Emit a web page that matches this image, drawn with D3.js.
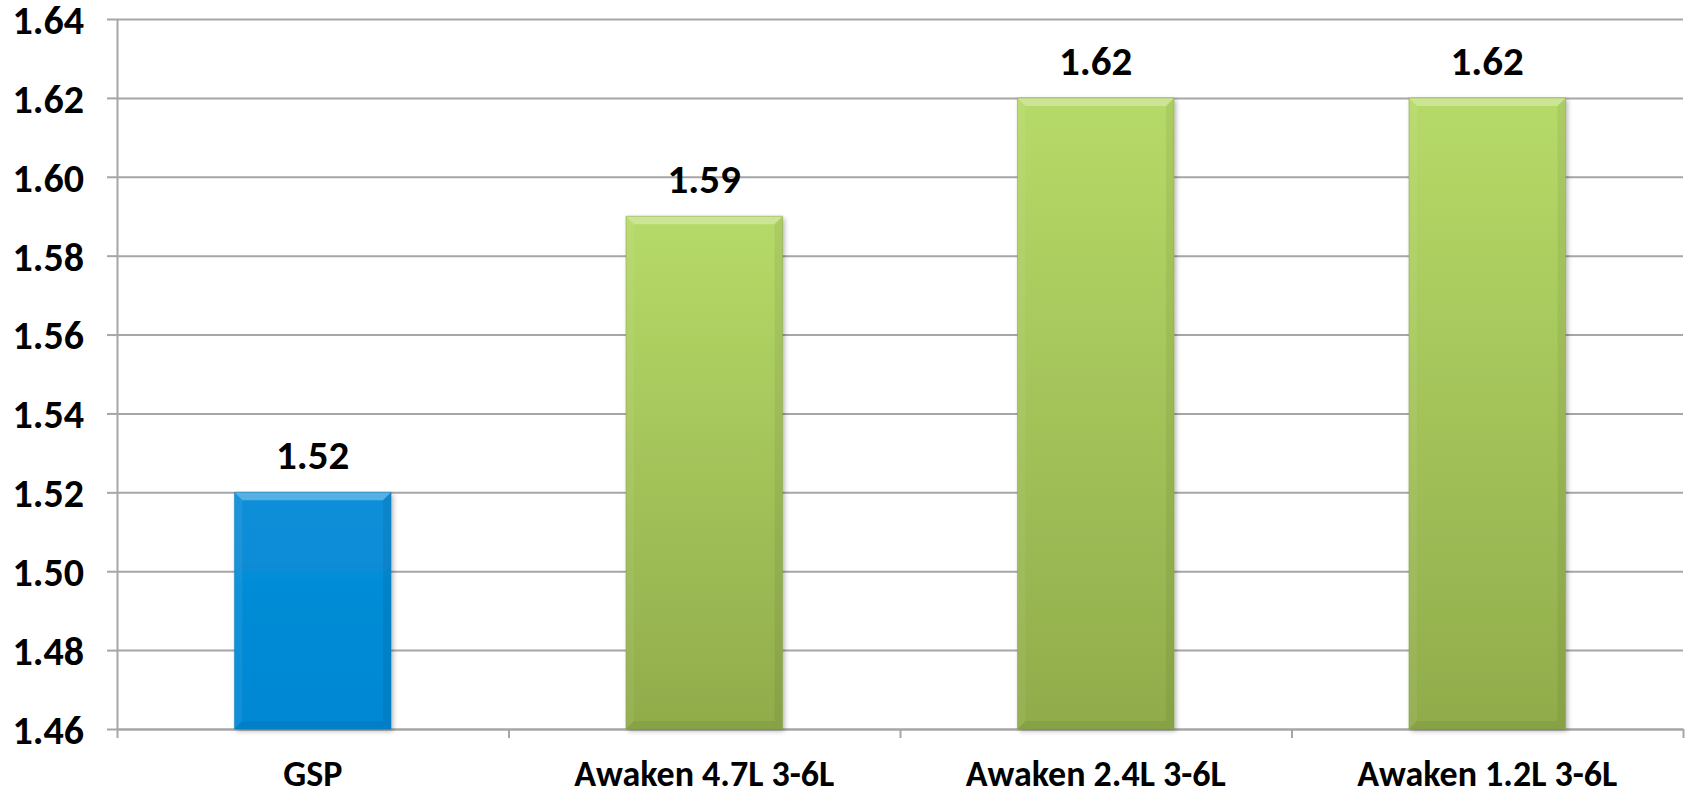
<!DOCTYPE html>
<html><head><meta charset="utf-8">
<script src="https://cdn.jsdelivr.net/npm/d3@7"></script>
<style>
html,body{margin:0;padding:0;background:#fff;}
svg{display:block;}
text{font-family:Carlito,Calibri,"Open Sans",sans-serif;font-weight:bold;fill:#000;}
</style></head><body>
<svg id="chart" width="1692" height="792"></svg>
<script>
const categories = ["GSP", "Awaken 4.7L 3-6L", "Awaken 2.4L 3-6L", "Awaken 1.2L 3-6L"];
const values = [1.52, 1.59, 1.62, 1.62];
const valueLabels = ["1.52", "1.59", "1.62", "1.62"];
const barKinds = ["blue", "green", "green", "green"];
const yTicks = [1.46, 1.48, 1.50, 1.52, 1.54, 1.56, 1.58, 1.60, 1.62, 1.64];
const yDomain = [1.46, 1.64];

(function(){
const svg = d3.select("#chart");
const mLeft = 117, mRight = 1683, mTop = 19, mBottom = 729;

const x = d3.scaleBand().domain(categories).range([mLeft, mRight]).paddingInner(0.6).paddingOuter(0.3);
const y = d3.scaleLinear().domain(yDomain).range([mBottom, mTop]);

const defs = svg.append("defs");
const gb = defs.append("linearGradient").attr("id","gblue").attr("x1",0).attr("y1",0).attr("x2",0).attr("y2",1);
gb.append("stop").attr("offset","0%").attr("stop-color","#0a8fd8");
gb.append("stop").attr("offset","100%").attr("stop-color","#0087d3");
const gg = defs.append("linearGradient").attr("id","ggreen").attr("x1",0).attr("y1",0).attr("x2",0).attr("y2",1);
gg.append("stop").attr("offset","0%").attr("stop-color","#b6da68");
gg.append("stop").attr("offset","100%").attr("stop-color","#90ac4b");
const flt = defs.append("filter").attr("id","shadow").attr("x","-10%").attr("y","-10%").attr("width","130%").attr("height","130%");
flt.append("feGaussianBlur").attr("in","SourceAlpha").attr("stdDeviation",2.5).attr("result","b");
flt.append("feOffset").attr("in","b").attr("dx",2).attr("dy",2).attr("result","o");
flt.append("feComponentTransfer").attr("in","o").attr("result","s").append("feFuncA").attr("type","linear").attr("slope",0.3);
const fm = flt.append("feMerge");
fm.append("feMergeNode").attr("in","s");
fm.append("feMergeNode").attr("in","SourceGraphic");

// gridlines
const grid = svg.append("g").attr("transform",`translate(${mLeft},0)`)
  .call(d3.axisLeft(y).tickValues(yTicks).tickSize(-(mRight-mLeft)).tickFormat(""));
grid.select(".domain").remove();
grid.selectAll("line").attr("stroke","#a6a6a6").attr("stroke-width",2);

// y axis with outer ticks
const yAxis = svg.append("g").attr("transform",`translate(${mLeft},0)`)
  .call(d3.axisLeft(y).tickValues(yTicks).tickSize(10).tickSizeOuter(0).tickFormat(d3.format(".2f")).tickPadding(23));
yAxis.select(".domain").attr("stroke","#a6a6a6").attr("stroke-width",2);
yAxis.selectAll("line").attr("stroke","#a6a6a6").attr("stroke-width",2);
yAxis.selectAll("text").style("font-size","40px").attr("dy","0.36em").attr("fill","#000");

// x axis
const xb = d3.scaleLinear().domain([0, categories.length]).range([mLeft, mRight]);
const xAxis = svg.append("g").attr("transform",`translate(0,${mBottom})`)
  .call(d3.axisBottom(xb).tickValues(d3.range(categories.length+1)).tickSize(9).tickSizeOuter(0).tickFormat(""));
xAxis.select(".domain").attr("stroke","#a6a6a6").attr("stroke-width",2);
xAxis.selectAll("line").attr("stroke","#a6a6a6").attr("stroke-width",2);

svg.append("g").selectAll("text").data(categories).join("text")
  .attr("x", d => x(d) + x.bandwidth()/2)
  .attr("y", 786)
  .attr("text-anchor","middle")
  .style("font-size","36px")
  .text(d => d);

// bars
const bars = svg.append("g").selectAll("g").data(values).join("g");
const bev = 8;
bars.each(function(v, i){
  const g = d3.select(this);
  const x0 = x(categories[i]), w = x.bandwidth(), y0 = y(v), y1 = y(yDomain[0]);
  const h = y1 - y0;
  g.append("rect").attr("x",x0).attr("y",y0).attr("width",w).attr("height",h)
    .attr("fill", barKinds[i]==="blue" ? "url(#gblue)" : "url(#ggreen)")
    .attr("filter","url(#shadow)");
  const x1 = x0 + w;
  g.append("polygon").attr("points",`${x0},${y0} ${x1},${y0} ${x1-bev},${y0+bev} ${x0+bev},${y0+bev}`)
    .attr("fill","#ffffff").attr("opacity",0.3);
  g.append("polygon").attr("points",`${x0},${y0} ${x0+bev},${y0+bev} ${x0+bev},${y1-bev} ${x0},${y1}`)
    .attr("fill","#ffffff").attr("opacity",0.06);
  g.append("polygon").attr("points",`${x1},${y0} ${x1-bev},${y0+bev} ${x1-bev},${y1-bev} ${x1},${y1}`)
    .attr("fill","#000000").attr("opacity",0.06);
  g.append("polygon").attr("points",`${x0},${y1} ${x0+bev},${y1-bev} ${x1-bev},${y1-bev} ${x1},${y1}`)
    .attr("fill","#000000").attr("opacity",0.06);
  g.append("rect").attr("x",x0).attr("y",y0).attr("width",w).attr("height",h)
    .attr("fill","none").attr("stroke", barKinds[i]==="blue" ? "#0a7fc0" : "#86a043").attr("stroke-width",1).attr("opacity",0.5);
});

// value labels
svg.append("g").selectAll("text").data(values).join("text")
  .attr("x", (d,i) => x(categories[i]) + x.bandwidth()/2)
  .attr("y", d => y(d) - 23)
  .attr("text-anchor","middle")
  .style("font-size","41px")
  .text((d,i) => valueLabels[i]);
})();
</script>
</body></html>
